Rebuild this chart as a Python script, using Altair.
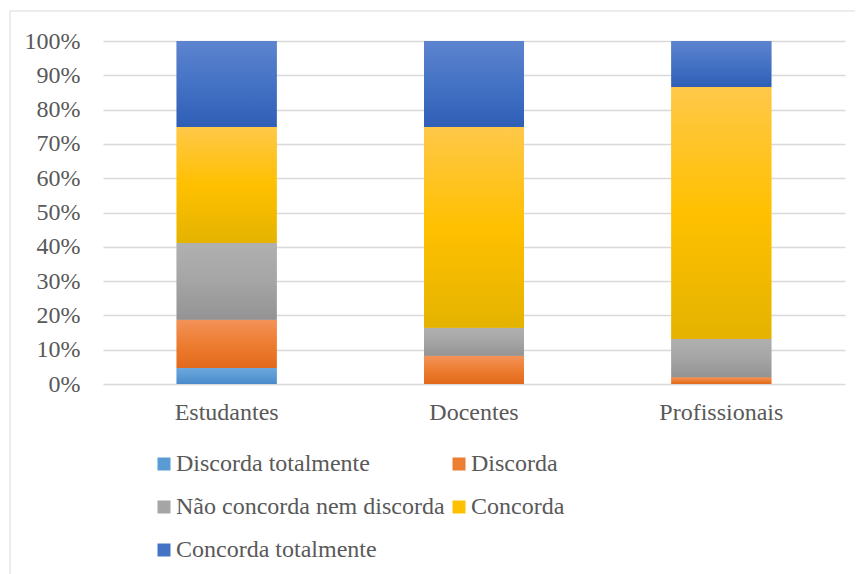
import altair as alt
import pandas as pd

groups = ["Estudantes", "Docentes", "Profissionais"]
series = ["Discorda totalmente", "Discorda", "Não concorda nem discorda", "Concorda", "Concorda totalmente"]
discorda_totalmente = [4.7, 0.0, 0.0]
discorda = [14.0, 8.2, 2.0]
neutro = [22.4, 8.2, 11.1]
concorda = [33.8, 58.5, 73.5]
concorda_totalmente = [25.1, 25.1, 13.4]
y_ticks = [0, 0.1, 0.2, 0.3, 0.4, 0.5, 0.6, 0.7, 0.8, 0.9, 1.0]

colors = ["#5B9BD5", "#ED7D31", "#A5A5A5", "#FFC000", "#4472C4"]
light = ["#6DA7DE", "#F39259", "#B0B0B0", "#FFC849", "#5D84CF"]
dark = ["#4A8ACB", "#E2691B", "#939393", "#E4B300", "#2F5EB7"]

# legend is laid out column by column: reorder so it reads row by row
legend_order = [0, 2, 4, 1, 3]
legend_domain = [series[i] for i in legend_order]
legend_range = [colors[i] for i in legend_order]

all_values = [discorda_totalmente, discorda, neutro, concorda, concorda_totalmente]
rows = []
for si, (s, vals) in enumerate(zip(series, all_values)):
    for g, v in zip(groups, vals):
        rows.append({"group": g, "series": s, "value": v, "order": si})
df = pd.DataFrame(rows)

FONT = "Liberation Serif"
TXT = "#595959"
FS = 24

base = alt.Chart(df).transform_stack(
    stack="value", groupby=["group"], as_=["y0", "y1"], offset="normalize",
    sort=[alt.SortField("order", order="ascending")]
)

x_scale = alt.Scale(paddingInner=0, paddingOuter=0)
y_scale = alt.Scale(domain=[0, 1], nice=False)
x_axis = alt.Axis(labelAngle=0, ticks=False, domain=False, grid=False,
                  labelPadding=16, labelFont=FONT, labelFontSize=FS, labelColor=TXT)
y_axis = alt.Axis(values=y_ticks, format=".0%", ticks=False, domain=False,
                  grid=True, gridColor="#d9d9d9", gridWidth=1.5,
                  labelPadding=23, labelOverlap=False, labelFont=FONT,
                  labelFontSize=FS, labelColor=TXT)


def x_enc():
    return alt.X("group:N", sort=groups, title=None, scale=x_scale, axis=x_axis)


def y_enc():
    return alt.Y("y0:Q", title=None, scale=y_scale, axis=y_axis)


solid = base.mark_bar(size=100).encode(
    x=x_enc(), y=y_enc(), y2="y1:Q",
    color=alt.Color("series:N", scale=alt.Scale(domain=legend_domain, range=legend_range),
                    legend=alt.Legend(title=None, orient="none", legendX=49, legendY=411,
                                      columns=2, columnPadding=2, rowPadding=19,
                                      symbolType="square", symbolSize=169,
                                      symbolStrokeWidth=0, labelOffset=0, labelLimit=500,
                                      labelFont=FONT, labelFontSize=FS, labelColor=TXT)),
    order=alt.Order("order:Q"),
)

layers = []
border = alt.Chart(pd.DataFrame({"a": [0]})).mark_rect(
    fill="white", fillOpacity=0, stroke="#d9d9d9", strokeWidth=1, clip=False
).encode(x=alt.value(-93), x2=alt.value(900), y=alt.value(-30), y2=alt.value(700))
layers.append(border)
layers.append(solid)

for s, c, l, d in zip(series, colors, light, dark):
    grad = alt.Gradient(gradient="linear",
                        stops=[alt.GradientStop(color=l, offset=0),
                               alt.GradientStop(color=c, offset=0.5),
                               alt.GradientStop(color=d, offset=1)],
                        x1=0, x2=0, y1=0, y2=1)
    layers.append(
        base.transform_filter(alt.datum.series == s).mark_bar(size=100, fill=grad).encode(
            x=x_enc(), y=y_enc(), y2="y1:Q",
        )
    )

chart = alt.layer(*layers).properties(
    width=742, height=343,
    autosize=alt.AutoSizeParams(type="none"),
    padding={"left": 95, "top": 33, "right": 10, "bottom": 190},
).configure_view(stroke=None)

chart.save("out.html", embed_options={"renderer": "svg", "actions": False})
